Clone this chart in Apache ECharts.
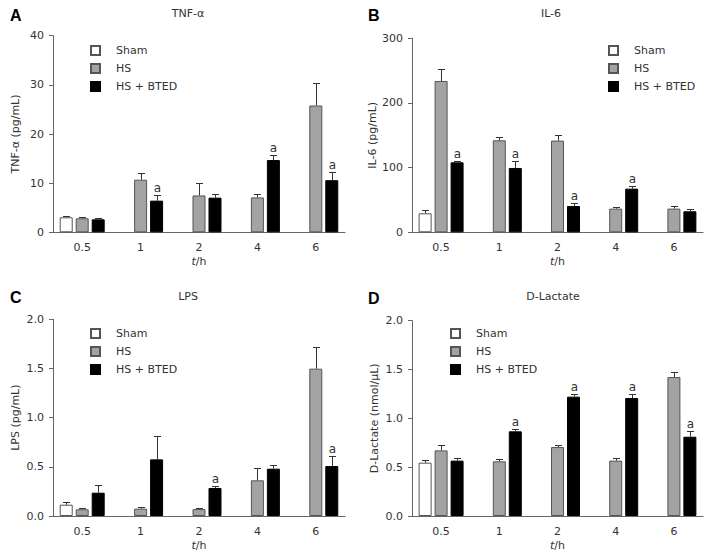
<!DOCTYPE html>
<html>
<head>
<meta charset="utf-8">
<script src="https://cdn.jsdelivr.net/npm/echarts@6/dist/echarts.min.js"></script>
<style>html,body{margin:0;padding:0;background:#fff}#c{width:712px;height:560px}</style>
</head>
<body>
<div id="c"></div>
<script>
// ---- data ----
const categories = ['0.5', '1', '2', '4', '6'];
const seriesNames = ['Sham', 'HS', 'HS + BTED'];

// Panel A: TNF-α (pg/mL)
const tnfSham = [3.05, null, null, null, null];
const tnfShamErr = [0.25, null, null, null, null];
const tnfHS = [2.85, 10.7, 7.5, 7.1, 25.8];
const tnfHSErr = [0.35, 1.4, 2.6, 0.6, 4.6];
const tnfBTED = [2.64, 6.44, 7.05, 14.7, 10.6];
const tnfBTEDErr = [0.3, 1.2, 0.65, 1.1, 1.7];
const tnfSig = [0, 1, 0, 1, 1];

// Panel B: IL-6 (pg/mL)
const il6Sham = [29.4, null, null, null, null];
const il6ShamErr = [4.6, null, null, null, null];
const il6HS = [234, 142.3, 141.8, 36.6, 36.6];
const il6HSErr = [18, 4.6, 8.2, 2.1, 3.6];
const il6BTED = [108.2, 99.5, 40.7, 67.5, 32.5];
const il6BTEDErr = [2.6, 10.3, 4.7, 3.6, 3.1];
const il6Sig = [1, 1, 1, 1, 0];

// Panel C: LPS (pg/mL)
const lpsSham = [0.115, null, null, null, null];
const lpsShamErr = [0.031, null, null, null, null];
const lpsHS = [0.068, 0.075, 0.07, 0.363, 1.498];
const lpsHSErr = [0.013, 0.013, 0.008, 0.122, 0.217];
const lpsBTED = [0.237, 0.576, 0.285, 0.481, 0.508];
const lpsBTEDErr = [0.078, 0.238, 0.02, 0.038, 0.099];
const lpsSig = [0, 0, 1, 0, 1];

// Panel D: D-Lactate (nmol/μL)
const dlSham = [0.546, null, null, null, null];
const dlShamErr = [0.024, null, null, null, null];
const dlHS = [0.672, 0.56, 0.706, 0.567, 1.423];
const dlHSErr = [0.055, 0.02, 0.018, 0.023, 0.048];
const dlBTED = [0.567, 0.867, 1.222, 1.208, 0.812];
const dlBTEDErr = [0.027, 0.027, 0.031, 0.038, 0.058];
const dlSig = [0, 1, 1, 1, 1];

// ---- layout / style ----
const FONT = 'DejaVu Sans';
const TXT = '#333';
const AX = '#666';
const BAR_W = 13;
const OFFS = [-16, 0, 16];
const fills = ['#ffffff', '#a3a3a3', '#000000'];
const borders = ['#555555', '#555555', '#000000'];

const panels = [
  { letter: 'A', title: 'TNF-\u03b1', yName: 'TNF-\u03b1 (pg/mL)', grid: { left: 53, top: 35.7, width: 292, height: 196.6 },
    min: 0, max: 40, interval: 10, dec: 0, vals: [tnfSham, tnfHS, tnfBTED], errs: [tnfShamErr, tnfHSErr, tnfBTEDErr], sig: tnfSig,
    letterPos: [10, 15], titlePos: [188, 13], legendPos: [90, 45] },
  { letter: 'B', title: 'IL-6', yName: 'IL-6 (pg/mL)', grid: { left: 412, top: 38.3, width: 291, height: 194 },
    min: 0, max: 300, interval: 100, dec: 0, vals: [il6Sham, il6HS, il6BTED], errs: [il6ShamErr, il6HSErr, il6BTEDErr], sig: il6Sig,
    letterPos: [368, 15], titlePos: [551, 13], legendPos: [608, 45] },
  { letter: 'C', title: 'LPS', yName: 'LPS (pg/mL)', grid: { left: 53, top: 319.3, width: 292, height: 196.7 },
    min: 0, max: 2, interval: 0.5, dec: 1, vals: [lpsSham, lpsHS, lpsBTED], errs: [lpsShamErr, lpsHSErr, lpsBTEDErr], sig: lpsSig,
    letterPos: [10, 297], titlePos: [188, 296], legendPos: [90, 328] },
  { letter: 'D', title: 'D-Lactate', yName: 'D-Lactate (nmol/\u03bcL)', grid: { left: 412, top: 320.7, width: 291, height: 195.3 },
    min: 0, max: 2, interval: 0.5, dec: 1, vals: [dlSham, dlHS, dlBTED], errs: [dlShamErr, dlHSErr, dlBTEDErr], sig: dlSig,
    letterPos: [368, 298], titlePos: [553, 296], legendPos: [450, 328] }
];

const option = {
  animation: false,
  backgroundColor: '#fff',
  textStyle: { fontFamily: FONT },
  grid: [], xAxis: [], yAxis: [], series: [], legend: [], graphic: []
};

panels.forEach((p, gi) => {
  option.grid.push(Object.assign({ containLabel: false }, p.grid));
  option.xAxis.push({
    type: 'category', gridIndex: gi, data: categories,
    axisLine: { lineStyle: { color: AX, width: 1 } },
    axisTick: { show: false },
    axisLabel: { color: TXT, fontSize: 11, fontFamily: FONT, margin: 10 },
    name: '{it|t}/h', nameLocation: 'middle', nameGap: 24,
    nameTextStyle: { color: TXT, fontSize: 11, fontFamily: FONT,
      rich: { it: { fontStyle: 'italic', fontSize: 11, fontFamily: FONT, color: TXT } } }
  });
  option.yAxis.push({
    type: 'value', gridIndex: gi, min: p.min, max: p.max, interval: p.interval,
    splitLine: { show: false },
    axisLine: { show: true, lineStyle: { color: AX, width: 1 } },
    axisTick: { show: true, length: 4, lineStyle: { color: AX } },
    axisLabel: { color: TXT, fontSize: 11, fontFamily: FONT, margin: 9,
      formatter: v => v.toFixed(p.dec) },
    name: p.yName, nameLocation: 'middle', nameGap: 32,
    nameTextStyle: { color: TXT, fontSize: 11, fontFamily: FONT }
  });
  seriesNames.forEach((sn, si) => {
    option.series.push({
      type: 'bar', name: sn, xAxisIndex: gi, yAxisIndex: gi,
      data: p.vals[si], barWidth: BAR_W, barGap: '23%',
      itemStyle: { color: fills[si], borderColor: borders[si], borderWidth: 1 },
      z: 2
    });
  });
  // error bars + significance marks
  const ebData = [];
  seriesNames.forEach((sn, si) => {
    p.vals[si].forEach((v, ci) => {
      if (v == null) return;
      ebData.push([ci, v, v + p.errs[si][ci], si, si === 2 ? p.sig[ci] : 0]);
    });
  });
  option.series.push({
    type: 'custom', xAxisIndex: gi, yAxisIndex: gi, data: ebData, z: 5,
    silent: true,
    renderItem: (params, api) => {
      const ci = api.value(0), si = api.value(3);
      const base = api.coord([ci, api.value(1)]);
      const top = api.coord([ci, api.value(2)]);
      const x = Math.round(base[0] + OFFS[si]) + 0.5;
      const y1 = base[1], y2 = Math.round(top[1]) + 0.5;
      const children = [
        { type: 'line', shape: { x1: x, y1: y1, x2: x, y2: y2 }, style: { stroke: '#333', lineWidth: 1 } },
        { type: 'line', shape: { x1: x - 3.5, y1: y2, x2: x + 3.5, y2: y2 }, style: { stroke: '#333', lineWidth: 1 } }
      ];
      if (api.value(4)) {
        children.push({ type: 'text', x: x, y: y2 - 2,
          style: { text: 'a', fill: TXT, font: '12px ' + FONT, align: 'center', verticalAlign: 'bottom' } });
      }
      return { type: 'group', children: children };
    }
  });
  option.legend.push({
    orient: 'vertical', left: p.legendPos[0], top: p.legendPos[1], padding: 0,
    itemWidth: 9, itemHeight: 9, itemGap: 7, icon: 'rect',
    data: seriesNames, selectedMode: false,
    textStyle: { color: TXT, fontSize: 11, fontFamily: FONT, padding: [0, 0, 0, 11] }
  });
  option.graphic.push({ type: 'text', x: p.letterPos[0], y: p.letterPos[1],
    style: { text: p.letter, fill: '#000', font: 'bold 16px Liberation Sans', verticalAlign: 'middle' } });
  option.graphic.push({ type: 'text', x: p.titlePos[0], y: p.titlePos[1],
    style: { text: p.title, fill: TXT, font: '11px ' + FONT, align: 'center', verticalAlign: 'middle' } });
});

const chart = echarts.init(document.getElementById('c'), null, { renderer: 'svg', width: 712, height: 560 });
chart.setOption(option);
</script>
</body>
</html>
